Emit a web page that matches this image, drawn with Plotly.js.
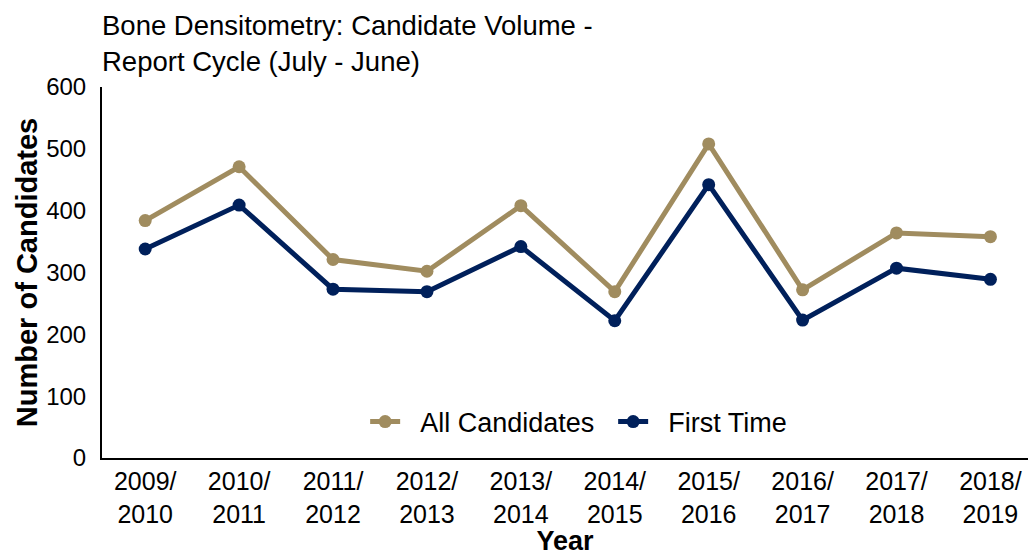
<!DOCTYPE html>
<html>
<head>
<meta charset="utf-8">
<script src="https://cdn.plot.ly/plotly-3.0.1.min.js"></script>
<style>html,body{margin:0;padding:0;background:#fff;}#chart{width:1028px;height:556px;}</style>
</head>
<body>
<div id="chart"></div>
<script>
const years = ["2009/<br>2010","2010/<br>2011","2011/<br>2012","2012/<br>2013","2013/<br>2014","2014/<br>2015","2015/<br>2016","2016/<br>2017","2017/<br>2018","2018/<br>2019"];
const allCandidates = [384, 471, 321, 302, 408, 269, 508, 272, 364, 358];
const firstTime = [338, 409, 273, 269, 342, 222, 442, 223, 307, 289];
const seriesNames = ["All Candidates", "First Time"];

const font = "Arial, 'Liberation Sans', sans-serif";
const pad = "\u00a0\u00a0";
const data = [
  {x: years, y: allCandidates, name: pad + seriesNames[0], type: "scatter", mode: "lines+markers",
   line: {color: "#A08C5F", width: 5}, marker: {color: "#A08C5F", size: 13}},
  {x: years, y: firstTime, name: pad + seriesNames[1], type: "scatter", mode: "lines+markers",
   line: {color: "#00205B", width: 5}, marker: {color: "#00205B", size: 13}}
];
const layout = {
  width: 1028, height: 556,
  margin: {l: 102, r: 0, t: 87, b: 98},
  paper_bgcolor: "#fff", plot_bgcolor: "#fff",
  font: {family: font, color: "#000", size: 24},
  title: {text: "Bone Densitometry: Candidate Volume -<br>Report Cycle (July - June)",
    x: 102/1028, xanchor: "left", xref: "container", y: 1 - 35/556, yanchor: "middle", yref: "container",
    font: {family: font, size: 27.5, color: "#000"}},
  xaxis: {type: "category", range: [-0.46, 9.4], showgrid: false, zeroline: false,
    showline: true, linecolor: "#000", linewidth: 2, ticks: "", tickfont: {size: 25},
    title: {text: "<b>Year</b>", font: {size: 27}, standoff: 9}},
  yaxis: {range: [0, 600], dtick: 100, showgrid: false, zeroline: false,
    showline: true, linecolor: "#000", linewidth: 2, ticks: "", tickfont: {size: 24},
    ticklabelstandoff: 9,
    title: {text: "<b>Number of Candidates</b>", font: {size: 29}, standoff: 0}},
  legend: {orientation: "h", x: 0.552, xanchor: "center", y: 0.097, yanchor: "middle",
    font: {size: 27}, bgcolor: "rgba(0,0,0,0)", entrywidth: 203, entrywidthmode: "pixels"},
  showlegend: true
};
Plotly.newPlot("chart", data, layout, {displayModeBar: false, staticPlot: true});
</script>
</body>
</html>
